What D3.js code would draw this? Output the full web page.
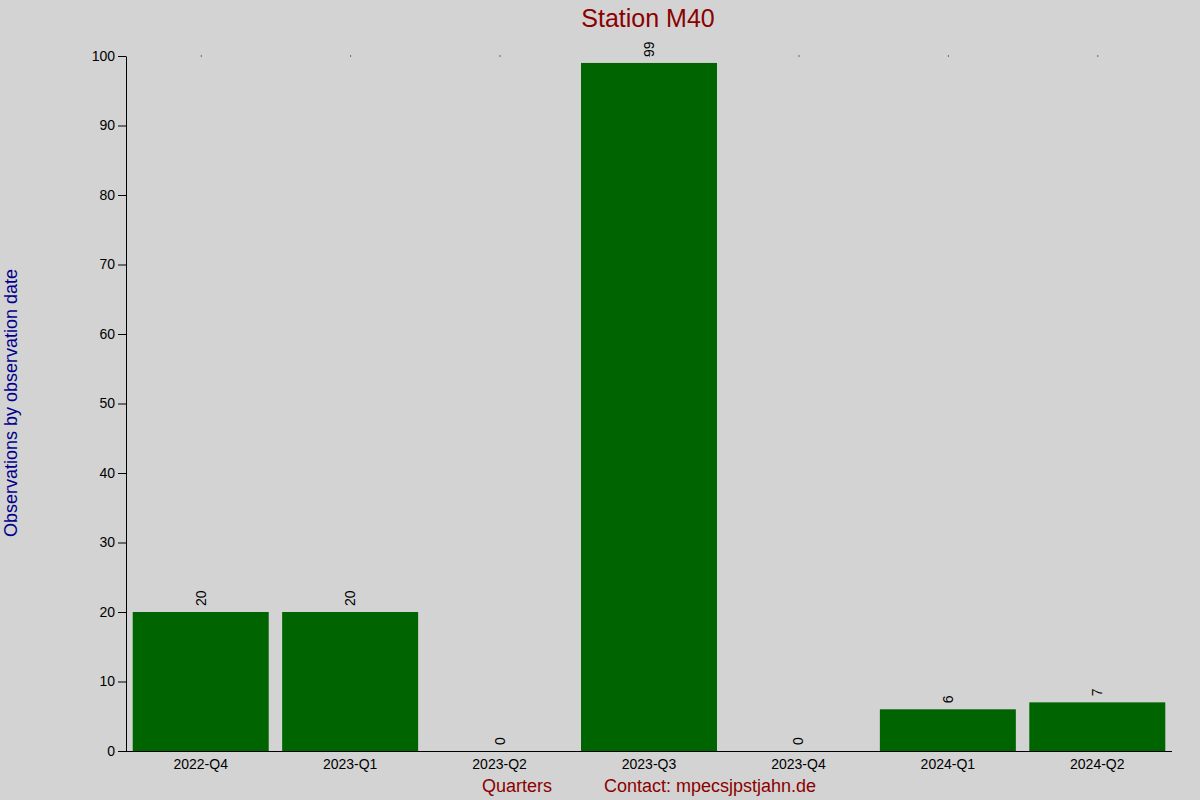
<!DOCTYPE html>
<html><head><meta charset="utf-8">
<script src="https://cdn.jsdelivr.net/npm/d3@7"></script>
<style>body{margin:0;background:#d3d3d3}svg{font-family:"Liberation Sans",Arial,sans-serif}</style>
</head><body><svg id="chart" width="1200" height="800"></svg>
<script>
const quarters = ['2022-Q4', '2023-Q1', '2023-Q2', '2023-Q3', '2023-Q4', '2024-Q1', '2024-Q2'];
const counts = [20, 20, 0, 99, 0, 6, 7];
const yTicks = [0, 10, 20, 30, 40, 50, 60, 70, 80, 90, 100];

const svg = d3.select('svg#chart');
svg.append('rect').attr('width', 1200).attr('height', 800).attr('fill', '#d3d3d3');

const x = d3.scaleBand().domain(quarters).range([126, 1172]).paddingInner(0.09).paddingOuter(0.045);
const y = d3.scaleLinear().domain([0, 100]).range([751, 56]);

// bars
svg.selectAll('rect.bar').data(quarters).join('rect')
  .attr('class', 'bar')
  .attr('x', d => x(d))
  .attr('width', x.bandwidth())
  .attr('y', (d, i) => y(counts[i]))
  .attr('height', (d, i) => y(0) - y(counts[i]))
  .attr('fill', '#006400');

// value labels, rotated
svg.selectAll('text.val').data(quarters).join('text')
  .attr('class', 'val')
  .attr('transform', (d, i) => `translate(${x(d) + x.bandwidth() / 2 + 5},${y(counts[i]) - 6}) rotate(-90)`)
  .attr('font-size', 14)
  .text((d, i) => counts[i]);

// y axis
const yAxis = svg.append('g').attr('transform', 'translate(126,0)')
  .call(d3.axisLeft(y).tickValues(yTicks).tickSize(8).tickSizeOuter(0));
yAxis.selectAll('text').attr('font-size', 14).attr('fill', '#000').attr('font-family', 'Liberation Sans, Arial, sans-serif');

// x axis
const xAxis = svg.append('g').attr('transform', 'translate(0,751)')
  .call(d3.axisBottom(x).tickSize(0).tickPadding(8));
xAxis.select('.domain').attr('d', 'M118,0.5H1172');
xAxis.selectAll('text').attr('font-size', 14).attr('fill', '#000').attr('font-family', 'Liberation Sans, Arial, sans-serif');

// tiny top ticks
svg.selectAll('rect.dot').data(quarters).join('rect')
  .attr('class', 'dot')
  .attr('x', d => x(d) + x.bandwidth() / 2)
  .attr('y', 55.5).attr('width', 1).attr('height', 1).attr('fill', '#000');

// titles
svg.append('text').attr('x', 648).attr('y', 27).attr('text-anchor', 'middle')
  .attr('font-size', 25).attr('fill', '#8b0000').text('Station M40');
svg.append('text').attr('transform', 'translate(17,403) rotate(-90)').attr('text-anchor', 'middle')
  .attr('font-size', 18).attr('fill', '#00008b').text('Observations by observation date');
svg.append('text').attr('x', 517).attr('y', 792).attr('text-anchor', 'middle')
  .attr('font-size', 18).attr('fill', '#8b0000').text('Quarters');
svg.append('text').attr('x', 710).attr('y', 792).attr('text-anchor', 'middle')
  .attr('font-size', 18).attr('fill', '#8b0000').text('Contact: mpecsjpstjahn.de');
</script></body></html>
